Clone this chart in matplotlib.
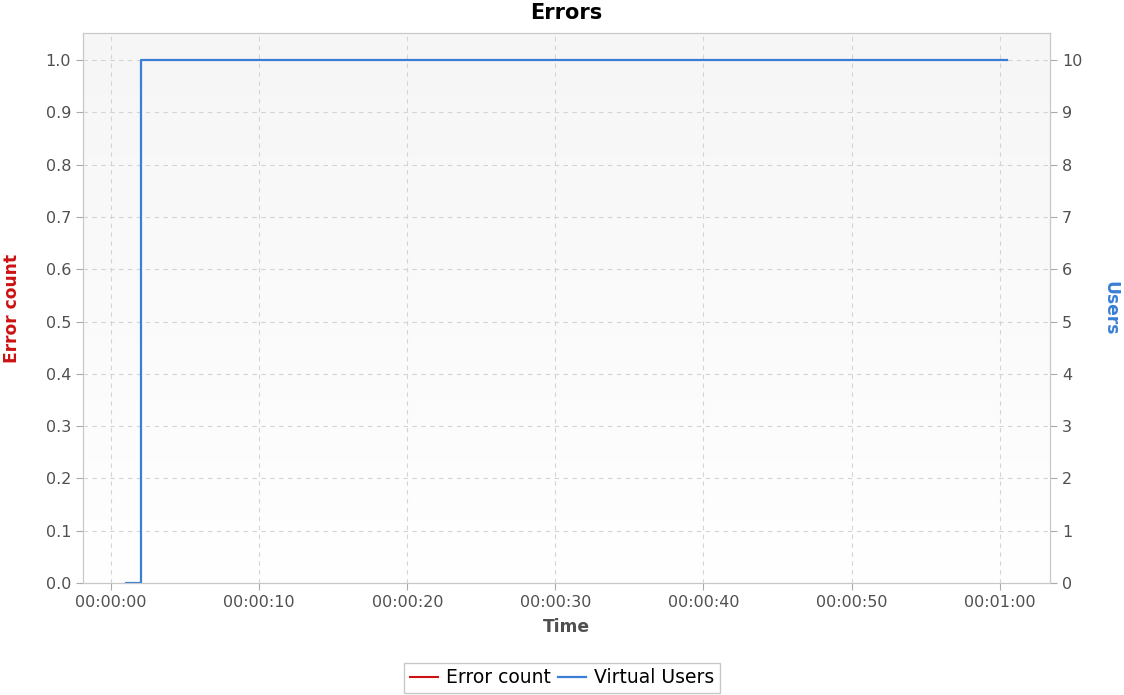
import numpy as np
import matplotlib as mpl
import matplotlib.pyplot as plt
from matplotlib.ticker import FuncFormatter, MultipleLocator

mpl.rcParams["font.family"] = ["DejaVu Sans"]

# ===== data =====
time_s = [1.0, 2.0, 60.5]          # seconds since start
virtual_users = [0, 10, 10]
error_time = []                    # no errors recorded
error_count = []

c_err = "#cc1111"
c_users = "#3a7fd5"
c_grid = "#d4d4d4"
c_text = "#505050"

fig = plt.figure(figsize=(11.24, 6.95), dpi=100)
ax = fig.add_axes([0.0738, 0.1612, 0.8604, 0.7913])
ax2 = ax.twinx()

# background gradient
grad = np.linspace(0, 1, 256).reshape(-1, 1)
cmap = mpl.colors.LinearSegmentedColormap.from_list("bg", ["#ffffff", "#f6f6f6"])
ax.imshow(grad, extent=[-1.9, 63.4, 0, 1.052], origin="lower", aspect="auto",
          cmap=cmap, zorder=0)

ax.set_xlim(-1.9, 63.4)
ax.set_ylim(0, 1.052)
ax2.set_ylim(0, 10.52)

ax.plot(error_time, error_count, c=c_err, lw=1.5, label="Error count")
l2, = ax2.plot(time_s, virtual_users, c=c_users, lw=1.6, drawstyle="steps-post",
               label="Virtual Users")

ax.xaxis.set_major_locator(MultipleLocator(10))
ax.xaxis.set_major_formatter(FuncFormatter(
    lambda v, p: f"{int(v)//3600:02d}:{int(v)%3600//60:02d}:{int(v)%60:02d}"))
ax.yaxis.set_major_locator(MultipleLocator(0.1))
ax.yaxis.set_major_formatter(FuncFormatter(lambda v, p: f"{v:.1f}"))
ax2.yaxis.set_major_locator(MultipleLocator(1))

ax.grid(True, ls=(0, (4, 4)), c=c_grid, lw=0.8)
ax.set_axisbelow(True)
for a in (ax, ax2):
    for s in a.spines.values():
        s.set_color("#c8c8c8")
    a.tick_params(colors="#aaaaaa", labelcolor=c_text, labelsize=11.5, length=5)

ax.set_title("Errors", fontsize=15, fontweight="bold", pad=10)
ax.set_xlabel("Time", fontsize=12.3, fontweight="bold", color=c_text, labelpad=6)
ax.set_ylabel("Error count", fontsize=12.3, fontweight="bold", color=c_err, labelpad=18)
ax2.set_ylabel("Users", fontsize=12.3, fontweight="bold", color=c_users,
               rotation=270, labelpad=27)

h1, lab1 = ax.get_legend_handles_labels()
fig.legend(h1 + [l2], lab1 + ["Virtual Users"], loc="center",
           bbox_to_anchor=(0.5, 0.025), ncol=2, frameon=True, fancybox=False,
           edgecolor="#bbbbbb", fontsize=13.5, handlelength=1.5, handletextpad=0.4,
           columnspacing=0.4, borderpad=0.3, borderaxespad=0)

fig.savefig("out.png", dpi=100)
